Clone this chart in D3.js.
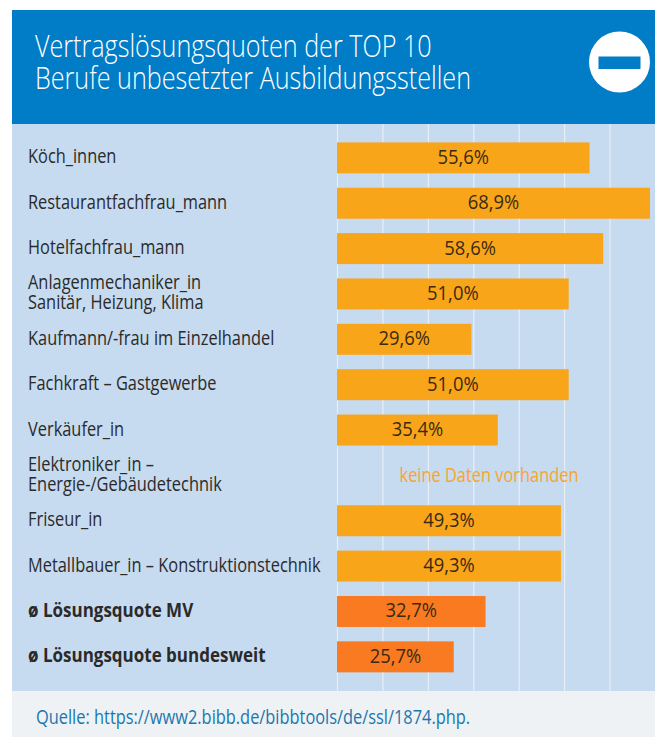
<!DOCTYPE html>
<html>
<head>
<meta charset="utf-8">
<script src="https://d3js.org/d3.v7.min.js"></script>
<style>
    html, body { margin: 0; padding: 0; background: #fff; }
    svg { display: block; }
    text { font-family: "Open Sans", sans-serif; }
</style>
</head>
<body>
<div id="chart-container"></div>
<script>
    // Data
    const categories = [
        ['Köch_innen'],
        ['Restaurantfachfrau_mann'],
        ['Hotelfachfrau_mann'],
        ['Anlagenmechaniker_in', 'Sanitär, Heizung, Klima'],
        ['Kaufmann/-frau im Einzelhandel'],
        ['Fachkraft – Gastgewerbe'],
        ['Verkäufer_in'],
        ['Elektroniker_in –', 'Energie-/Gebäudetechnik'],
        ['Friseur_in'],
        ['Metallbauer_in – Konstruktionstechnik'],
        ['ø Lösungsquote MV'],
        ['ø Lösungsquote bundesweit']
    ];
    const values = [55.6, 68.9, 58.6, 51.0, 29.6, 51.0, 35.4, null, 49.3, 49.3, 32.7, 25.7];
    const isAverage = [false, false, false, false, false, false, false, false, false, false, true, true];
    const gridTicks = [0, 10, 20, 30, 40, 50, 60];
    const titleLines = ['Vertragslösungsquoten der TOP 10', 'Berufe unbesetzter Ausbildungsstellen'];
    const noDataText = 'keine Daten vorhanden';
    const sourceText = 'Quelle: https://www2.bibb.de/bibbtools/de/ssl/1874.php.';

    const W = 655, H = 737;

    const svg = d3.select('#chart-container')
        .append('svg')
        .attr('width', W)
        .attr('height', H);

    // Panels
    svg.append('rect').attr('x', 12).attr('y', 10).attr('width', W - 12).attr('height', 114).attr('fill', '#007dc6');
    svg.append('rect').attr('x', 12).attr('y', 124).attr('width', W - 12).attr('height', 567).attr('fill', '#c6daf0');
    svg.append('rect').attr('x', 12).attr('y', 691).attr('width', W - 12).attr('height', 46).attr('fill', '#eef2f4');

    // Squeezed text helper, the original font is condensed
    function label(sel, x, y, size, squeeze, fill, anchor, weight) {
        return sel.append('text')
            .attr('transform', `translate(${x},${y}) scale(${squeeze},1)`)
            .attr('text-anchor', anchor || 'start')
            .attr('font-size', size)
            .attr('font-weight', weight || 400)
            .attr('fill', fill);
    }

    // Header
    titleLines.forEach((t, i) => {
        label(svg, 35, 57 + i * 32, 30.5, 0.825, '#fff', 'start', 300).text(t);
    });
    svg.append('circle').attr('cx', 619.5).attr('cy', 62).attr('r', 30.5).attr('fill', '#fff');
    svg.append('rect').attr('x', 598.5).attr('y', 56.5).attr('width', 42).attr('height', 12.5).attr('fill', '#007dc6');

    // Scales
    const x = d3.scaleLinear().domain([0, 70]).range([337, 655]);
    const y = d3.scaleBand()
        .domain(d3.range(categories.length))
        .range([135.2, 135.2 + 45.36 * categories.length])
        .paddingInner(0.317)
        .paddingOuter(0.1585);

    // Gridlines
    const axis = svg.append('g')
        .attr('transform', 'translate(0,124)')
        .call(d3.axisBottom(x).tickValues(gridTicks).tickSize(567).tickFormat(''));
    axis.select('.domain').remove();
    axis.selectAll('line').attr('stroke', '#e9eff6').attr('stroke-width', 1.2);

    // Bars
    const rows = d3.range(categories.length);
    svg.selectAll('.bar')
        .data(rows.filter(i => values[i] !== null))
        .enter()
        .append('rect')
        .attr('class', 'bar')
        .attr('x', x(0))
        .attr('y', i => y(i))
        .attr('width', i => x(values[i]) - x(0))
        .attr('height', y.bandwidth())
        .attr('fill', i => isAverage[i] ? '#f97a20' : '#f9a51a');

    // Row labels and values
    rows.forEach(i => {
        const cy = y(i) + y.bandwidth() / 2;
        const lines = categories[i];
        lines.forEach((t, j) => {
            const offset = lines.length === 2 ? (j === 0 ? -10 : 10) : 0;
            if (isAverage[i]) {
                label(svg, 28, cy + offset + 5.5, 20, 0.85, '#2b2a29', 'start', 700).text(t);
            } else {
                label(svg, 28, cy + offset + 5.5, 20, 0.82, '#2b2a29').text(t);
            }
        });
        if (values[i] !== null) {
            const mid = (x(0) + x(values[i])) / 2;
            label(svg, mid, cy + 6, 20, 0.92, '#3a2a14', 'middle')
                .text(values[i].toFixed(1).replace('.', ',') + '%');
        } else {
            label(svg, 489, cy + 7, 20, 0.82, '#f9a52a', 'middle').text(noDataText);
        }
    });

    // Source
    label(svg, 36, 724, 20, 0.82, '#1b76ae').text(sourceText);
</script>
</body>
</html>
